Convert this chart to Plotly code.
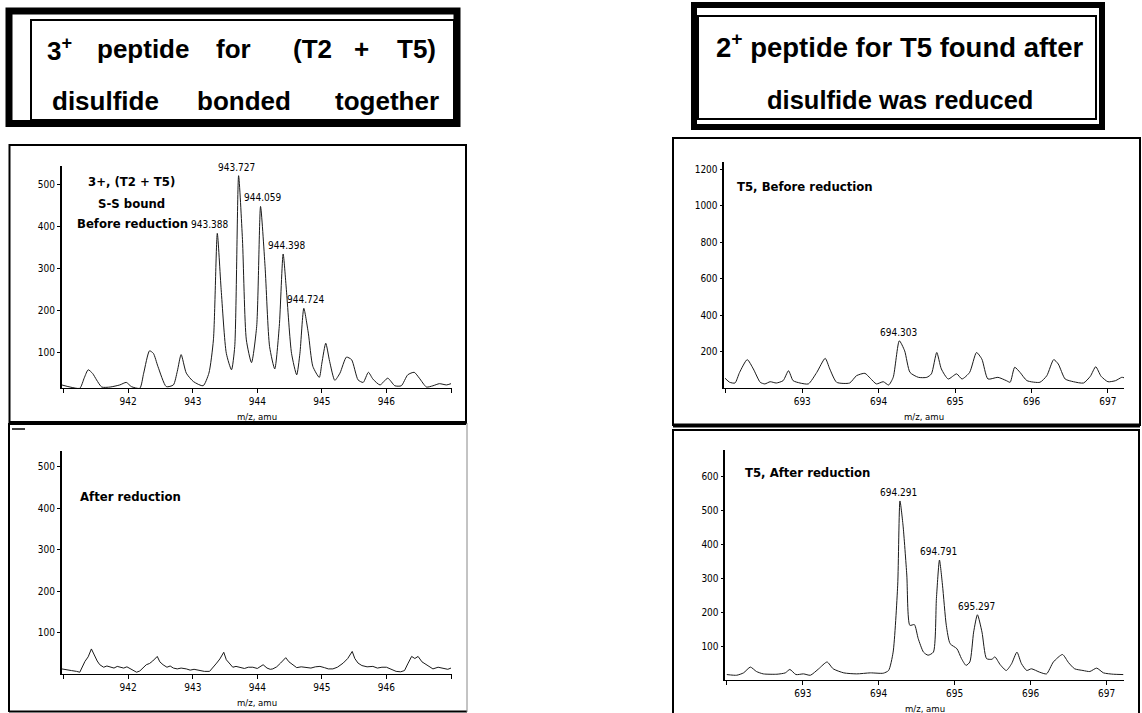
import plotly.graph_objects as go

W, H = 1142, 713

# ---------------- data ----------------
p1_mz = [940.97, 941.10, 941.25, 941.32, 941.38, 941.45, 941.51, 941.59, 941.72, 941.87,
         941.97, 942.05, 942.18, 942.24, 942.33, 942.39, 942.46, 942.59, 942.70, 942.76,
         942.82, 942.90, 943.01, 943.16, 943.25, 943.32, 943.38, 943.44, 943.52, 943.60,
         943.65, 943.71, 943.77, 943.83, 943.91, 943.99, 944.05, 944.12, 944.19, 944.27,
         944.34, 944.40, 944.45, 944.53, 944.61, 944.66, 944.72, 944.79, 944.86, 944.96,
         945.00, 945.06, 945.12, 945.20, 945.28, 945.38, 945.46, 945.56, 945.64, 945.72,
         945.79, 945.90, 946.02, 946.13, 946.23, 946.33, 946.43, 946.51, 946.62, 946.72,
         946.82, 946.93, 947.00]
p1_int = [23, 18, 15, 40, 59, 50, 35, 18, 18, 23,
          29, 19, 15, 51, 104, 98, 67, 19, 23, 55,
          95, 51, 31, 21, 51, 130, 383, 249, 98, 59,
          114, 520, 368, 130, 76, 162, 447, 304, 114, 61,
          162, 334, 249, 98, 47, 98, 205, 146, 67, 41,
          75, 122, 79, 34, 51, 89, 83, 35, 29, 53,
          37, 23, 39, 21, 21, 47, 53, 39, 18, 21,
          26, 23, 26]

p2_mz = [940.97, 941.05, 941.12, 941.20, 941.25, 941.33, 941.38, 941.43, 941.48, 941.52,
         941.56, 941.62, 941.67, 941.72, 941.78, 941.83, 941.87, 941.93, 941.98, 942.03,
         942.08, 942.13, 942.18, 942.23, 942.28, 942.33, 942.38, 942.45, 942.49, 942.54,
         942.60, 942.65, 942.70, 942.76, 942.82, 942.90, 942.96, 943.02, 943.11, 943.18,
         943.26, 943.31, 943.37, 943.42, 943.48, 943.52, 943.57, 943.62, 943.67, 943.73,
         943.80, 943.86, 943.93, 944.00, 944.05, 944.09, 944.15, 944.20, 944.24, 944.30,
         944.36, 944.44, 944.49, 944.55, 944.61, 944.68, 944.76, 944.83, 944.90, 944.97,
         945.04, 945.10, 945.17, 945.24, 945.33, 945.40, 945.47, 945.51, 945.56, 945.62,
         945.70, 945.79, 945.86, 945.93, 946.00, 946.07, 946.15, 946.22, 946.28, 946.33,
         946.39, 946.44, 946.49, 946.55, 946.62, 946.67, 946.72, 946.80, 946.88, 946.95,
         947.00]
p2_int = [13, 10, 9, 7, 5, 31, 42, 61, 43, 32,
          23, 17, 20, 17, 15, 19, 17, 15, 18, 13,
          10, 5, 8, 15, 23, 26, 32, 43, 30, 23,
          17, 20, 15, 13, 15, 13, 10, 12, 9, 7,
          7, 15, 27, 37, 53, 35, 27, 17, 19, 17,
          14, 17, 17, 14, 19, 23, 15, 12, 13, 18,
          27, 40, 30, 23, 16, 18, 17, 15, 18, 19,
          16, 13, 13, 17, 27, 38, 55, 38, 27, 21,
          18, 19, 15, 17, 17, 12, 7, 6, 9, 25,
          43, 38, 43, 30, 23, 16, 13, 17, 15, 12,
          15]

p3_mz = [691.99, 692.05, 692.12, 692.18, 692.28, 692.36, 692.45, 692.51, 692.58, 692.66,
         692.75, 692.82, 692.88, 692.97, 693.08, 693.19, 693.30, 693.36, 693.45, 693.62,
         693.71, 693.82, 693.89, 693.97, 694.06, 694.13, 694.19, 694.27, 694.34, 694.41,
         694.52, 694.63, 694.69, 694.76, 694.82, 694.91, 695.02, 695.09, 695.19, 695.28,
         695.35, 695.43, 695.56, 695.67, 695.72, 695.78, 695.85, 695.94, 696.11, 696.20,
         696.29, 696.35, 696.44, 696.55, 696.68, 696.77, 696.84, 696.91, 697.00, 697.10,
         697.18, 697.21]
p3_int = [55, 33, 29, 87, 157, 106, 33, 24, 36, 29,
          42, 96, 42, 29, 24, 87, 164, 106, 33, 29,
          69, 82, 55, 24, 36, 18, 60, 260, 205, 87,
          60, 60, 79, 196, 106, 51, 79, 51, 87, 196,
          160, 51, 60, 42, 33, 115, 87, 42, 33, 69,
          157, 133, 51, 36, 29, 66, 118, 66, 36, 42,
          60, 58]

p4_mz = [692.00, 692.13, 692.22, 692.31, 692.39, 692.48, 692.66, 692.77, 692.83, 692.91,
         693.01, 693.10, 693.21, 693.32, 693.40, 693.54, 693.71, 693.89, 694.06, 694.13,
         694.19, 694.25, 694.28, 694.32, 694.37, 694.41, 694.47, 694.52, 694.59, 694.65,
         694.72, 694.76, 694.80, 694.84, 694.89, 694.94, 695.03, 695.09, 695.15, 695.20,
         695.25, 695.30, 695.36, 695.42, 695.49, 695.53, 695.60, 695.68, 695.75, 695.82,
         695.88, 695.95, 696.01, 696.12, 696.21, 696.30, 696.42, 696.50, 696.58, 696.69,
         696.78, 696.87, 696.96, 697.09, 697.22]
p4_int = [16, 14, 21, 38, 25, 18, 17, 21, 31, 16,
          18, 14, 33, 53, 33, 21, 18, 21, 20, 28,
          82, 279, 527, 456, 309, 161, 163, 122, 82, 73,
          82, 240, 353, 279, 161, 107, 92, 63, 43, 53,
          141, 192, 141, 63, 61, 68, 45, 28, 48, 82,
          48, 28, 33, 23, 18, 53, 75, 51, 33, 28,
          25, 35, 21, 17, 16]

p1_peak_labels = ["943.388", "943.727", "944.059", "944.398", "944.724"]
p3_peak_labels = ["694.303"]
p4_peak_labels = ["694.291", "694.791", "695.297"]

p1_xticks = [942, 943, 944, 945, 946]
p1_xtick0 = 941
p3_xticks = [693, 694, 695, 696, 697]
p3_xtick0 = 692
p1_yticks = [100, 200, 300, 400, 500]
p3_yticks = [200, 400, 600, 800, 1000, 1200]
p4_yticks = [100, 200, 300, 400, 500, 600]

title_left_line1 = ["3<sup>+</sup>", "peptide", "for", "(T2", "+", "T5)"]
title_left_line2 = ["disulfide", "bonded", "together"]
title_right = ["2<sup>+</sup> peptide for T5 found after", "disulfide was reduced"]

# ---------------- helpers ----------------
def PX(x):
    return x / W

def PY(y):
    return 1 - y / H

TICKFONT = dict(family="DejaVu Sans Condensed", size=10, color="black")
LABELFONT = dict(family="DejaVu Sans Condensed", size=10, color="black")
BOLDFONT = dict(family="DejaVu Sans Condensed", size=13, color="black")
AXTITLEFONT = dict(family="DejaVu Sans Condensed", size=9.5, color="black")
TITLEFONT_L = dict(family="Liberation Sans", size=26, color="black")
TITLEFONT_R1 = dict(family="Liberation Sans", size=27.5, color="black")
TITLEFONT_R2 = dict(family="Liberation Sans", size=25.5, color="black")

# panel geometry in pixels: (x_left, x_right), (y_bottom, y_top)
panels = {
    1: dict(px=(61.7, 452.3), py=(388.3, 166.0), xr=[940.97, 947.02], yr=[15, 543]),
    2: dict(px=(61.7, 452.3), py=(674.3, 450.7), xr=[940.97, 947.02], yr=[0, 538]),
    3: dict(px=(724.3, 1124.0), py=(388.3, 161.7), xr=[691.98, 697.21], yr=[0, 1241]),
    4: dict(px=(725.3, 1124.0), py=(680.0, 450.0), xr=[691.98, 697.23], yr=[0, 677]),
}

fig = go.Figure()
layout = dict(width=W, height=H, margin=dict(l=0, r=0, t=0, b=0),
              paper_bgcolor="white", plot_bgcolor="white", showlegend=False)

series = {1: (p1_mz, p1_int, "spline"), 2: (p2_mz, p2_int, "linear"),
          3: (p3_mz, p3_int, "spline"), 4: (p4_mz, p4_int, "spline")}
xticks = {1: (p1_xticks, p1_xtick0), 2: (p1_xticks, p1_xtick0),
          3: (p3_xticks, p3_xtick0), 4: (p3_xticks, p3_xtick0)}
yticks = {1: p1_yticks, 2: p1_yticks, 3: p3_yticks, 4: p4_yticks}
marker_y = {1: 125, 2: 153, 3: 122, 4: 143}

for i, p in panels.items():
    xa = "x" if i == 1 else f"x{i}"
    ya = "y" if i == 1 else f"y{i}"
    mz, inten, shape = series[i]
    fig.add_trace(go.Scatter(x=mz, y=inten, mode="lines", xaxis=xa, yaxis=ya,
                             line=dict(color="#1a1a1a", width=1, shape=shape, smoothing=0.6),
                             hoverinfo="skip"))
    # small black pointer triangle on the y axis
    px_per_unit = (p["px"][1] - p["px"][0]) / (p["xr"][1] - p["xr"][0])
    fig.add_trace(go.Scatter(x=[p["xr"][0] - 4.5 / px_per_unit], y=[marker_y[i]],
                             mode="markers", xaxis=xa, yaxis=ya, cliponaxis=False,
                             marker=dict(symbol="triangle-right", size=9, color="black"),
                             hoverinfo="skip"))
    xt, xt0 = xticks[i]
    layout["xaxis" if i == 1 else f"xaxis{i}"] = dict(
        domain=[PX(p["px"][0]), PX(p["px"][1])], range=p["xr"], anchor=ya,
        tickvals=xt, ticks="outside", ticklen=4, tickwidth=1,
        minor=dict(tick0=xt0, dtick=1, ticks="outside", ticklen=4, tickwidth=1,
                   tickcolor="black", showgrid=False),
        tickcolor="black", showline=True, linecolor="black", linewidth=1,
        showgrid=False, zeroline=False, tickfont=TICKFONT, fixedrange=True)
    layout["yaxis" if i == 1 else f"yaxis{i}"] = dict(
        domain=[PY(p["py"][0]), PY(p["py"][1])], range=p["yr"], anchor=xa,
        tickvals=yticks[i], ticks="outside", ticklen=3, tickwidth=1,
        tickcolor="black", showline=True, linecolor="black", linewidth=1.5,
        showgrid=False, zeroline=False, tickfont=TICKFONT, fixedrange=True)

annotations = []

def peak_annots(labels, mz, inten, xa, ya, xshifts):
    for lab, xs in zip(labels, xshifts):
        c = float(lab)
        near = [(v, m) for m, v in zip(mz, inten) if abs(m - c) < 0.1]
        v, m = max(near)
        annotations.append(dict(x=m, y=v, xref=xa, yref=ya, text=lab, showarrow=False,
                                xanchor="center", yanchor="bottom", xshift=xs, yshift=1,
                                font=LABELFONT))

peak_annots(p1_peak_labels, p1_mz, p1_int, "x", "y", [-8, -2, 2, 3, 2])
peak_annots(p3_peak_labels, p3_mz, p3_int, "x3", "y3", [-1])
peak_annots(p4_peak_labels, p4_mz, p4_int, "x4", "y4", [-1, -1, -1])

panel_texts = [
    ("x", "y", 942.05, 506, "3+, (T2 + T5)"),
    ("x", "y", 942.05, 453, "S-S bound"),
    ("x", "y", 942.07, 407, "Before reduction"),
    ("x2", "y2", 942.03, 428, "After reduction"),
    ("x3", "y3", 693.03, 1105, "T5, Before reduction"),
    ("x4", "y4", 693.06, 611, "T5, After reduction"),
]
for xa, ya, x, y, t in panel_texts:
    annotations.append(dict(x=x, y=y, xref=xa, yref=ya, text=f"<b>{t}</b>", showarrow=False,
                            xanchor="center", yanchor="middle", font=BOLDFONT))

for i, p in panels.items():
    xa = "x" if i == 1 else f"x{i}"
    ya = "y" if i == 1 else f"y{i}"
    annotations.append(dict(x=sum(p["xr"]) / 2, y=0, xref=xa, yref=f"{ya} domain",
                            text="m/z, amu", showarrow=False, yanchor="middle",
                            yshift=-28, font=AXTITLEFONT))

# titles
left_line1_cx = [59, 143, 233, 312.5, 361.7, 416.7]
left_line2_cx = [105, 243.5, 386.7]
for t, cx in zip(title_left_line1, left_line1_cx):
    annotations.append(dict(x=PX(cx), y=PY(49), xref="paper", yref="paper", text=f"<b>{t}</b>",
                            showarrow=False, xanchor="center", yanchor="middle", font=TITLEFONT_L))
for t, cx in zip(title_left_line2, left_line2_cx):
    annotations.append(dict(x=PX(cx), y=PY(101), xref="paper", yref="paper", text=f"<b>{t}</b>",
                            showarrow=False, xanchor="center", yanchor="middle", font=TITLEFONT_L))
for t, cy, f in zip(title_right, [46, 100], [TITLEFONT_R1, TITLEFONT_R2]):
    annotations.append(dict(x=PX(900), y=PY(cy), xref="paper", yref="paper", text=f"<b>{t}</b>",
                            showarrow=False, xanchor="center", yanchor="middle", font=f))

layout["annotations"] = annotations

def rect(x0, y0, x1, y1, w, color="black"):
    return dict(type="rect", xref="paper", yref="paper", x0=PX(x0), x1=PX(x1),
                y0=PY(y1), y1=PY(y0), line=dict(color=color, width=w), fillcolor="rgba(0,0,0,0)")

def line(x0, y0, x1, y1, w, color="black"):
    return dict(type="line", xref="paper", yref="paper", x0=PX(x0), x1=PX(x1),
                y0=PY(y0), y1=PY(y1), line=dict(color=color, width=w))

shapes = [
    # left title frame
    rect(9, 11, 457, 123.5, 7),
    rect(31, 20, 454, 120, 2),
    # right title frame
    rect(694, 5, 1102, 127, 6),
    rect(698, 16, 1096, 119, 2),
    # panel 1 frame
    rect(9.5, 145, 466, 423, 2),
    line(9.5, 423, 466, 423, 4),
    # panel 2 frame
    line(9, 423, 9, 712, 2),
    line(9, 711.5, 467, 711.5, 2),
    line(467, 423, 467, 712, 1, "#888"),
    line(12, 429, 25, 429, 1.5),
    # panel 3 frame
    rect(673, 138, 1140, 425, 2),
    line(673, 425.5, 1140, 425.5, 4),
    # panel 4 frame
    rect(673, 430, 1139, 715, 2),
]
layout["shapes"] = shapes

fig.update_layout(**layout)
fig.write_html("out.html", config={"displayModeBar": False},
               post_script="document.body.style.margin='0';document.body.style.overflow='hidden';")
